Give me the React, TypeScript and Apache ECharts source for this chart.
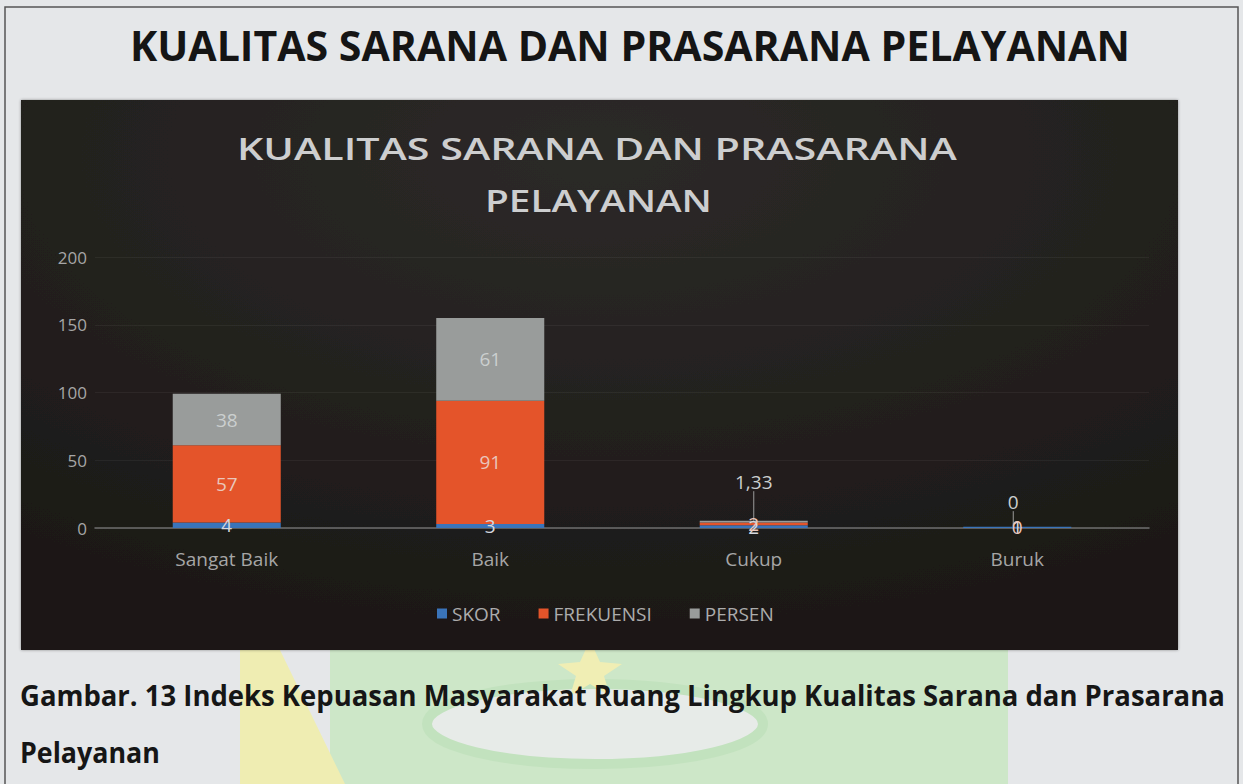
import React, { useEffect, useRef } from "react";
import * as echarts from "echarts";

const categories = ["Sangat Baik", "Baik", "Cukup", "Buruk"];
const skor = [4, 3, 2, 1];
const frekuensi = [57, 91, 2, 0];
const persen = [38, 61, 1.33, 0];
const yTicks = { min: 0, max: 200, interval: 50 };

const pageTitle = "KUALITAS SARANA DAN PRASARANA PELAYANAN";
const chartTitle1 = "KUALITAS SARANA DAN PRASARANA";
const chartTitle2 = "PELAYANAN";
const caption1 = "Gambar. 13 Indeks Kepuasan Masyarakat Ruang Lingkup Kualitas Sarana dan Prasarana";
const caption2 = "Pelayanan";

function fit(text: string, font: string, target: number): number {
  const ctx = document.createElement("canvas").getContext("2d");
  if (!ctx) return 1;
  ctx.font = font;
  const w = ctx.measureText(text).width;
  return w > 0 ? target / w : 1;
}

const fmt = (v: number) => String(v).replace(".", ",");

export default function App() {
  const ref = useRef<HTMLDivElement>(null);
  useEffect(() => {
    document.body.style.margin = "0";
    if (!ref.current) return;
    const chart = echarts.init(ref.current, null, { renderer: "svg" });

    const txt = (text: string, size: number, weight: string, x: number, y: number, w: number, color: string) => {
      const font = `${weight} ${size}px 'Open Sans'`;
      return {
        type: "text",
        x,
        y,
        scaleX: fit(text, font, w),
        z: 5,
        style: {
          text,
          fill: color,
          font,
          textAlign: "left",
          textVerticalAlign: "middle",
        },
      };
    };

    const labelFont = { fontSize: 19, fontFamily: "Open Sans" };

    const option: any = {
      animation: false,
      backgroundColor: "#e5e7e9",
      graphic: [
        {
          type: "group",
          z: -10,
          silent: true,
          children: [
            // faint watermark behind the caption
            { type: "rect", shape: { x: 330, y: 560, width: 678, height: 224 }, style: { fill: "#cde7c8" }, z: -10 },
            { type: "polygon", shape: { points: [[240, 560], [236, 560], [280, 650], [345, 784], [240, 784]] }, style: { fill: "#efedb2" }, z: -9 },
            { type: "ellipse", shape: { cx: 595, cy: 724, rx: 168, ry: 40 }, style: { fill: "#e7ebe8", stroke: "#c2e2be", lineWidth: 10 }, z: -8 },
            { type: "polygon", shape: { points: [[590, 640], [600, 662], [622, 664], [604, 676], [610, 696], [590, 684], [570, 696], [576, 676], [558, 664], [580, 662]] }, style: { fill: "#f0eeb4" }, z: -7 },
            // page border
            { type: "rect", shape: { x: 5, y: 7, width: 1233, height: 790 }, style: { fill: "none", stroke: "#555", lineWidth: 1.5 }, z: -6 },
            // dark chart panel
            {
              type: "rect",
              shape: { x: 21, y: 100, width: 1157, height: 550 },
              style: {
                fill: new echarts.graphic.RadialGradient(0.5, 0.1, 0.9, [
                  { offset: 0, color: "#2c2a28" },
                  { offset: 1, color: "#1b1816" },
                ]),
                shadowBlur: 3,
                shadowColor: "rgba(0,0,0,0.4)",
              },
              z: -5,
            },
          ],
        },
        txt(pageTitle, 42, "bold", 130, 45, 1000, "#151515"),
        txt(chartTitle1, 31, "600", 237, 148, 720, "#cdcecf"),
        txt(chartTitle2, 31, "600", 485, 200, 227, "#cdcecf"),
        txt(caption1, 28, "bold", 20, 695, 1205, "#161616"),
        txt(caption2, 28, "bold", 20, 752, 140, "#161616"),
      ],
      legend: {
        left: 432,
        top: 599,
        icon: "rect",
        itemWidth: 10,
        itemHeight: 10,
        itemGap: 38,
        textStyle: { color: "#acacac", fontSize: 19, fontFamily: "Open Sans" },
        data: ["SKOR", "FREKUENSI", "PERSEN"],
      },
      grid: { left: 95, right: 94, top: 257, bottom: 256 },
      xAxis: {
        type: "category",
        data: categories,
        axisLine: { lineStyle: { color: "#6e6e6e", width: 1.5 } },
        axisTick: { show: false },
        axisLabel: { color: "#a6a6a6", fontSize: 19, fontFamily: "Open Sans", margin: 21 },
      },
      yAxis: {
        type: "value",
        min: yTicks.min,
        max: yTicks.max,
        interval: yTicks.interval,
        axisLine: { show: false },
        axisTick: { show: false },
        splitLine: { lineStyle: { color: "rgba(255,255,255,0.05)" } },
        axisLabel: { color: "#a6a6a6", fontSize: 17, fontFamily: "Open Sans", margin: 8 },
      },
      series: [
        {
          name: "SKOR",
          type: "bar",
          stack: "t",
          barWidth: "41%",
          data: skor,
          itemStyle: { color: "#3a74ba" },
          label: { show: true, position: "inside", color: "#d4d8de", ...labelFont, formatter: (p: any) => fmt(p.value) },
        },
        {
          name: "FREKUENSI",
          type: "bar",
          stack: "t",
          data: frekuensi,
          itemStyle: { color: "#e4542a" },
          label: { show: true, position: "inside", color: "#eac6bb", ...labelFont, formatter: (p: any) => fmt(p.value) },
        },
        {
          name: "PERSEN",
          type: "bar",
          stack: "t",
          data: persen,
          itemStyle: { color: "#999c9b" },
          label: { show: true, position: "inside", color: "#cbcfcf", ...labelFont, formatter: (p: any) => fmt(p.value) },
          labelLine: { show: true, lineStyle: { color: "#9a9a9a", width: 1 } },
          labelLayout: (p: any) => {
            if (p.dataIndex === 2) return { dy: -40 };
            if (p.dataIndex === 3) return { dx: -4, dy: -25 };
            return {};
          },
        },
      ],
    };
    chart.setOption(option);
    return () => chart.dispose();
  }, []);
  return <div ref={ref} style={{ position: "fixed", left: 0, top: 0, width: 1243, height: 784 }} />;
}
